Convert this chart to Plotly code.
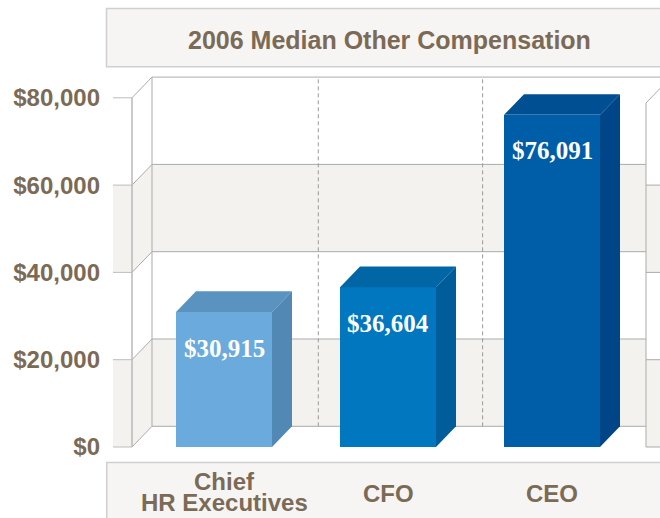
import plotly.graph_objects as go

# ---------------- data ----------------
categories = ["Chief<br>HR Executives", "CFO", "CEO"]
values = [30915, 36604, 76091]
value_labels = ["$30,915", "$36,604", "$76,091"]
tick_values = [0, 20000, 40000, 60000, 80000]
tick_labels = ["$0", "$20,000", "$40,000", "$60,000", "$80,000"]
title_text = "2006 Median Other Compensation"

# ---------------- styling / geometry ----------------
W, H = 660, 518
ML = 113
K = 87.3 / 20000.0            # px per dollar
Y0PX = 447.0                  # pixel of $0 (front)
CAT0PX, CATSTEP = 224.0, 164.0  # pixel of first category center, spacing
def ux(px):
    return (px - CAT0PX) / CATSTEP
def vy(py):
    return (Y0PX - py) / K

XT = ux(ML)
XR = ux(W)
YMIN, YMAX = vy(H), vy(0)
DX = 20.0 / CATSTEP
DY = 20.7 / K
XF = ux(132)
XB = XF + DX
BAR_W = 96.0 / CATSTEP
SEP = [0.453, 1.455]
XN = ux(646)
VN = vy(103)

front_cols = ["#6aaadc", "#0077bf", "#005ea9"]
top_cols = ["#5b93c0", "#0066a6", "#004f92"]
side_cols = ["#5288b4", "#005d99", "#004588"]
BAND = "#f3f2ef"
GRID = "#ababab"
TXT = "#7b6a56"
BOX = "#f6f5f3"
BOXLINE = "#cfcfcf"

fig = go.Figure()

shapes = []
def line(x0, y0, x1, y1, color=GRID, width=1, dash=None):
    d = dict(type="line", xref="x", yref="y", x0=x0, y0=y0, x1=x1, y1=y1,
             line=dict(color=color, width=width), layer="below")
    if dash:
        d["line"]["dash"] = dash
    shapes.append(d)

def poly(pts, fill, lc=None):
    path = "M " + " L ".join(f"{x},{y}" for x, y in pts) + " Z"
    shapes.append(dict(type="path", xref="x", yref="y", path=path, fillcolor=fill,
                       line=dict(width=0 if lc is None else 1, color=lc or fill), layer="below"))

# bands (grey between 0-20k and 40k-60k)
for lo, hi in [(tick_values[0], tick_values[1]), (tick_values[2], tick_values[3])]:
    poly([(XT, lo), (XF, lo), (XF, hi), (XT, hi)], BAND)
    poly([(XF, lo), (XB, lo + DY), (XB, hi + DY), (XF, hi)], BAND)
    poly([(XB, lo + DY), (XR, lo + DY), (XR, hi + DY), (XB, hi + DY)], BAND)

# grid lines
for t in tick_values:
    line(XT, t, XF, t, color="#bdbdbd")
    line(XF, t, XB, t + DY)
    line(XB, t + DY, XR, t + DY)
# wall edges
line(XF, tick_values[0], XF, tick_values[-1], color="#b8b8b8", width=1.5)
line(XB, tick_values[0] + DY, XB, tick_values[-1] + DY)
# dashed separators on back wall
for s in SEP:
    line(s + DX, tick_values[0] + DY, s + DX, tick_values[-1] + DY, color="#9a9a9a", dash="4px,3px")

# neighbouring panel edge at the right
poly([(XN, 0), (XR, 0), (XR, VN), (XN, VN)], "white")
for lo, hi in [(tick_values[0], tick_values[1]), (tick_values[2], tick_values[3])]:
    poly([(XN, lo), (XR, lo), (XR, hi), (XN, hi)], BAND)
for t in tick_values[:4]:
    line(XN, t, XR, t)
line(XN, 0, XN, VN)
line(XN, VN, XN + DX, VN + DY)

# title box & category box (pixel -> paper)
def px_x(p):
    return (p - ML) / (W - ML)
def px_y(p):
    return 1 - p / H
shapes.append(dict(type="rect", xref="paper", yref="paper", x0=px_x(106.5), x1=px_x(670),
                   y0=px_y(66.7), y1=px_y(8.5), fillcolor=BOX,
                   line=dict(color=BOXLINE, width=1.5), layer="below"))
shapes.append(dict(type="rect", xref="paper", yref="paper", x0=px_x(106.7), x1=px_x(670),
                   y0=px_y(530), y1=px_y(462.5), fillcolor=BOX,
                   line=dict(color=BOXLINE, width=1.5), layer="below"))

# ---------------- bars ----------------
xs = list(range(len(categories)))
fig.add_trace(go.Bar(x=xs, y=values, width=BAR_W, marker=dict(color=front_cols, line=dict(width=0)),
                     hoverinfo="skip", showlegend=False))
for i, v in enumerate(values):
    xl, xr = i - BAR_W / 2, i + BAR_W / 2
    fig.add_trace(go.Scatter(x=[xl, xl + DX, xr + DX, xr, xl], y=[v, v + DY, v + DY, v, v],
                             fill="toself", fillcolor=top_cols[i], mode="lines",
                             line=dict(width=0, color=top_cols[i]), hoverinfo="skip", showlegend=False))
    fig.add_trace(go.Scatter(x=[xr, xr + DX, xr + DX, xr, xr], y=[0, DY, v + DY, v, 0],
                             fill="toself", fillcolor=side_cols[i], mode="lines",
                             line=dict(width=0, color=side_cols[i]), hoverinfo="skip", showlegend=False))

annotations = []
for i, (v, lab) in enumerate(zip(values, value_labels)):
    annotations.append(dict(x=i, y=v, xref="x", yref="y", text=lab, showarrow=False,
                            yanchor="middle", yshift=-36,
                            font=dict(family="Liberation Serif", size=25, color="white", weight="bold")))

# category labels (tight line spacing -> one annotation per line)
for i, c in enumerate(categories):
    parts = c.split("<br>")
    if len(parts) == 1:
        ys = [493.3]
    else:
        ys = [481.5, 502.5]
    for p, yy in zip(parts, ys):
        annotations.append(dict(x=i, y=px_y(yy), xref="x", yref="paper", text=p, showarrow=False,
                                yanchor="middle",
                                font=dict(family="Liberation Sans", size=24, color=TXT, weight="bold")))

annotations.append(dict(x=px_x(389), y=px_y(39.5), xref="paper", yref="paper", text=title_text,
                        showarrow=False, yanchor="middle",
                        font=dict(family="Liberation Sans", size=25, color=TXT, weight="bold")))

fig.update_layout(
    width=W, height=H, autosize=False,
    margin=dict(l=ML, r=0, t=0, b=0, pad=0),
    paper_bgcolor="white", plot_bgcolor="white",
    shapes=shapes, annotations=annotations,
    xaxis=dict(range=[XT, XR], showgrid=False, zeroline=False, showticklabels=False,
               showline=False, fixedrange=True),
    yaxis=dict(range=[YMIN, YMAX], tickvals=tick_values, ticktext=tick_labels,
               showgrid=False, zeroline=False, showline=False, ticks="", ticklabelstandoff=12,
               tickfont=dict(family="Liberation Sans", size=24, color=TXT, weight="bold"),
               fixedrange=True),
    bargap=0,
)

fig.write_html("out.html", config={"displayModeBar": False},
               post_script="document.body.style.margin='0';document.body.style.overflow='hidden';")
